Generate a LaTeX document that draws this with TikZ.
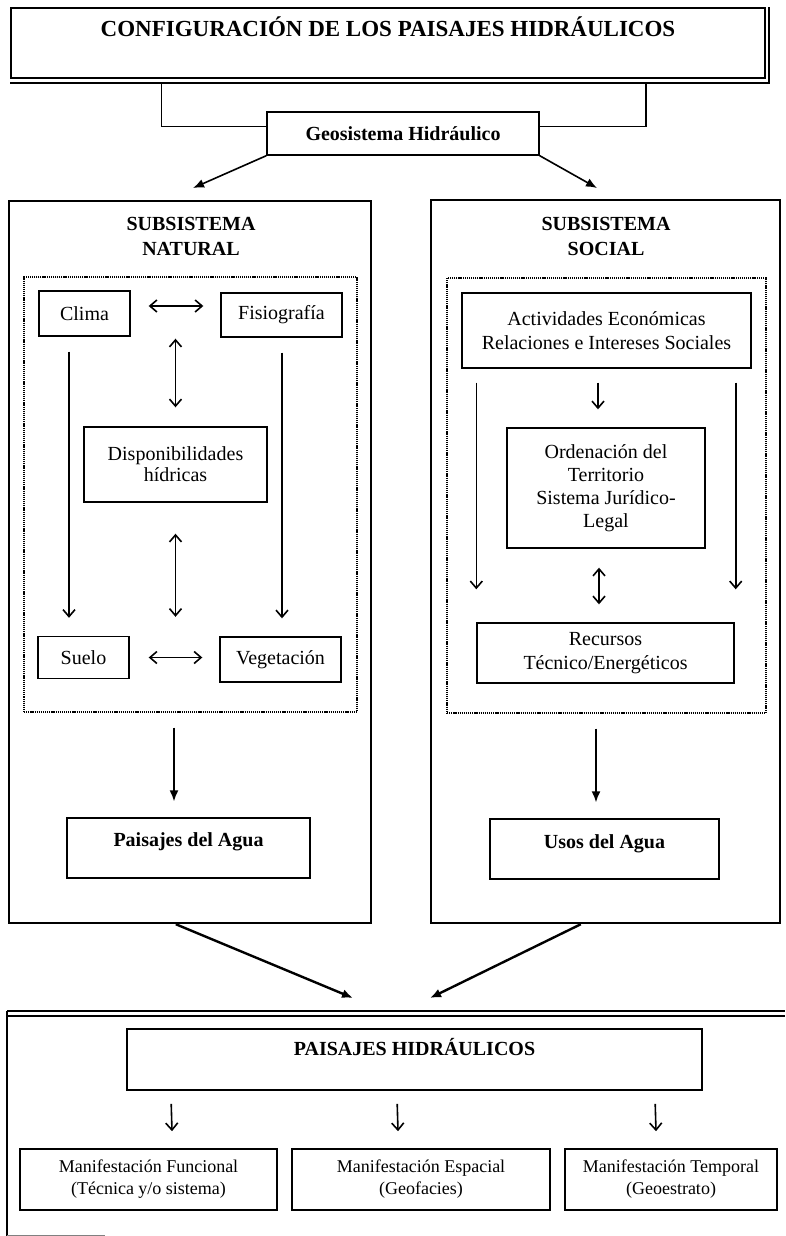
\documentclass[tikz,border=0pt]{standalone}
\usepackage{fontspec}
\setmainfont{Liberation Serif}
\usetikzlibrary{arrows.meta,calc}
\begin{document}
\begin{tikzpicture}[x=1pt,y=-1pt,
  box/.style={draw, line width=1.4pt, inner sep=0pt},
  rtxt/.style={font=\fontsize{20}{23}\selectfont},
  btxt/.style={font=\bfseries\fontsize{20}{25}\selectfont},
  arrV/.style={line width=1.6pt, -{Straight Barb[length=7pt,width=12pt]}},
  arrVV/.style={line width=1.6pt, {Straight Barb[length=7pt,width=12pt]}-{Straight Barb[length=7pt,width=12pt]}},
  arrF/.style={line width=1.6pt, -{Latex[length=11pt,width=9pt]}},
  dotbox/.style={draw, dash pattern=on 1.2pt off 0.9pt, line width=1.2pt, inner sep=0pt},
]
\useasboundingbox (0,0) rectangle (785,1236);

% title
\node[box, line width=1.8pt, minimum width=754pt, minimum height=70pt,
      font=\bfseries\fontsize{23}{27}\selectfont, text height=16pt, text depth=28pt]
      (title) at (388,43) {CONFIGURACIÓN DE LOS PAISAJES HIDRÁULICOS};
\draw[line width=1.4pt] ($(title.south west)+(0,4)$) -| ($(title.north east)+(3,0)$);

% geosistema
\node[box, btxt, minimum width=272pt, minimum height=43pt] (geo) at (403,133.5) {Geosistema Hidráulico};
\draw[line width=1.2pt] ($(title.south west)+(151,4)$) |- ($(geo.west)+(0,-7)$);
\draw[line width=1.2pt] ($(title.south east)+(-120,4)$) |- ($(geo.east)+(0,-7)$);

\coordinate (tipL) at (193,188);
\coordinate (tipR) at (597,188);
\draw[arrF] (geo.south west) -- (tipL);
\draw[arrF] (geo.south east) -- (tipR);

% subsystems
\node[box, line width=2.4pt, minimum width=362pt, minimum height=722pt] (nat) at (190,562) {};
\node[box, line width=2.4pt, minimum width=349pt, minimum height=723pt] (soc) at (605.5,561.5) {};
\node[btxt, align=center, inner sep=0pt] (natT) at (191,236) {SUBSISTEMA\\NATURAL};
\node[btxt, align=center, inner sep=0pt] (socT) at (606,236) {SUBSISTEMA\\SOCIAL};

\node[dotbox, minimum width=333pt, minimum height=435pt] (natD) at (190.5,494.5) {};
\node[dotbox, minimum width=319pt, minimum height=435pt] (socD) at (606.5,495.5) {};

% natural inner
\node[box, rtxt, minimum width=91pt, minimum height=45pt] (clima) at (84.5,313.5) {Clima};
\node[box, rtxt, minimum width=121pt, minimum height=44pt] (fisio) at (281.5,315) {Fisiografía};
\node[box, align=center, font=\fontsize{20}{21}\selectfont, minimum width=183pt, minimum height=75pt] (disp) at (175.5,464.5) {Disponibilidades\\hídricas};
\node[box, rtxt, minimum width=91pt, minimum height=42pt] (suelo) at (83.5,657.5) {Suelo};
\node[box, rtxt, minimum width=121pt, minimum height=45pt] (veg) at (280.5,659.5) {Vegetación};

\draw[arrVV] ($(clima.east)+(18,-7.5)$) -- ($(fisio.west)+(-17,-9)$);
\draw[arrVV] ($(disp.north |- clima.south)+(0,2)$) -- ($(disp.north)+(0,-19)$);
\draw[arrVV] ($(disp.south)+(0,31)$) -- ($(disp.south |- suelo.north)+(0,-19)$);
\draw[arrV] ($(clima.south)+(-15.5,15)$) -- ($(clima.south |- suelo.north)+(-15.5,-18)$);
\draw[arrV] ($(fisio.south)+(0.5,15)$) -- ($(fisio.south |- veg.north)+(0.5,-18)$);
\draw[arrVV] ($(suelo.east)+(19,0)$) -- ($(veg.west)+(-17,-2)$);

\node[box, btxt, minimum width=243pt, minimum height=60pt, text height=14pt, text depth=18pt] (pag) at (188.5,848) {Paisajes del Agua};
\draw[arrF] ($(natD.south)+(-16.5,15)$) -- ($(pag.north)+(-14.5,-16)$);

% social inner
\node[box, align=center, font=\fontsize{20}{24}\selectfont, minimum width=289pt, minimum height=75pt] (act) at (606.5,330.5) {Actividades Económicas\\Relaciones e Intereses Sociales};
\node[box, align=center, font=\fontsize{20}{23}\selectfont, minimum width=198pt, minimum height=120pt] (ord) at (606,488) {Ordenación del\\Territorio\\Sistema Jurídico-\\Legal};
\node[box, align=center, font=\fontsize{20}{24}\selectfont, minimum width=257pt, minimum height=60pt] (rec) at (605.5,653) {Recursos\\Técnico/Energéticos};

\draw[arrV] ($(act.south)+(-8.5,14)$) -- ($(ord.north)+(-8,-18)$);
\draw[arrV] ($(act.south west)+(15,14)$) -- ($(act.south west |- rec.north)+(15,-33)$);
\draw[arrV] ($(act.south east)+(-16,14)$) -- ($(act.south east |- rec.north)+(-16,-33)$);
\draw[arrVV] ($(ord.south)+(-7,19)$) -- ($(rec.north)+(-6.5,-18)$);

\node[box, btxt, minimum width=229pt, minimum height=60pt, text height=14pt, text depth=16pt] (usos) at (604.5,849) {Usos del Agua};
\draw[arrF] ($(socD.south)+(-10.5,15)$) -- ($(usos.north)+(-8.5,-16)$);

% converging arrows
\coordinate (tipB1) at (353,998);
\coordinate (tipB2) at (430,998);
\draw[arrF, line width=2.4pt] ($(nat.south west)+(168,0)$) -- (tipB1);
\draw[arrF, line width=2.4pt] ($(soc.south west)+(151,0)$) -- (tipB2);

% bottom frame
\draw[line width=1.8pt] (7,1011) -- (785,1011);
\draw[line width=1.4pt] (7,1016) -- (785,1016);
\draw[line width=1.8pt] (7,1011) -- (7,1236);
\draw[line width=1pt, gray] (7,1235) -- (105,1235);

\node[box, line width=1.6pt, btxt, minimum width=575pt, minimum height=61pt, text height=14pt, text depth=23pt] (ph) at (414.5,1059.5) {PAISAJES HIDRÁULICOS};

\node[box, line width=1.6pt, align=center, font=\fontsize{18}{22}\selectfont, minimum width=257pt, minimum height=61pt] (m1) at (148.5,1179.5) {Manifestación Funcional\\(Técnica y/o sistema)};
\node[box, line width=1.6pt, align=center, font=\fontsize{18}{22}\selectfont, minimum width=258pt, minimum height=61pt] (m2) at (421,1179.5) {Manifestación Espacial\\(Geofacies)};
\node[box, line width=1.6pt, align=center, font=\fontsize{18}{22}\selectfont, minimum width=212pt, minimum height=61pt] (m3) at (671,1179.5) {Manifestación Temporal\\(Geoestrato)};

\draw[arrV] ($(ph.south west)+(45,13)$) -- ($(m1.north)+(23.5,-17)$);
\draw[arrV] ($(ph.south west)+(271,13)$) -- ($(m2.north)+(-23,-17)$);
\draw[arrV] ($(ph.south west)+(529,13)$) -- ($(m3.north)+(-15,-17)$);
\end{tikzpicture}
\end{document}
